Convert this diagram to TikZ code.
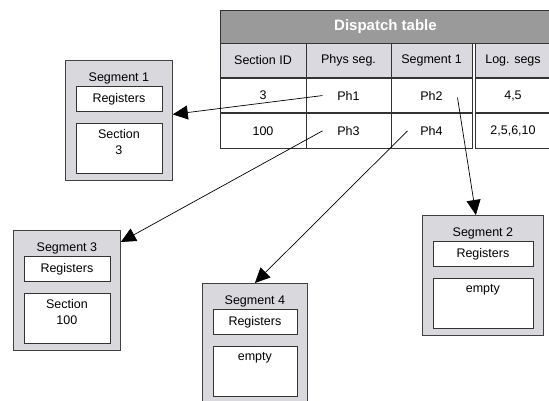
\documentclass[tikz,border=0pt]{standalone}
\usepackage{fontspec}
\setmainfont{Liberation Sans}
\usetikzlibrary{arrows.meta}

\definecolor{titlegray}{HTML}{9A9A9A}
\definecolor{headgray}{HTML}{D9D9DF}
\definecolor{seggray}{HTML}{D8D8DD}

\tikzset{
  cell/.style={draw=black!80, line width=0.8pt, minimum height=34.5, inner sep=0pt},
  segbox/.style={draw=black!75, fill=seggray, line width=0.8pt, anchor=north west, minimum height=120},
  inbox/.style={draw=black!80, fill=white, line width=0.8pt, anchor=north, inner sep=0pt},
  link/.style={-{Triangle[length=15pt,width=14pt]}, line width=0.7pt},
}

\begin{document}
\begin{tikzpicture}[x=1pt, y=-1pt, font=\fontsize{12.5}{16}\selectfont]
\useasboundingbox (0,0) rectangle (549,401);

% Dispatch table
\node[cell, fill=titlegray, minimum width=331, minimum height=33, text=white,
      font=\fontsize{15}{17}\selectfont\bfseries] (title) at (385.5,26.5) {Dispatch table};
\foreach \c/\cx/\w/\t/\a/\b in {1/263/86/Section ID/3/100, 2/348.5/85/Phys seg./Ph1/Ph3,
    3/431.5/81/Segment 1/Ph2/Ph4, 4/513/76/Log. segs/{4,5}/{2,5,6,10}} {
  \node[cell, fill=headgray, minimum width=\w] (h-\c) at (\cx,60.25) {\t};
  \node[cell, fill=white, minimum width=\w, anchor=north] (r1-\c) at (h-\c.south) {\a};
  \node[cell, fill=white, minimum width=\w, anchor=north] (r2-\c) at (r1-\c.south) {\b};
}

% Segments
\foreach \n/\x/\y/\w/\t/\c in {seg1/65/60/107/Segment 1/Section\\3, seg3/13/230/107/Segment 3/Section\\100,
    seg4/202/283/105/Segment 4/empty, seg2/422/215/121/Segment 2/empty} {
  \node[segbox, minimum width=\w] (\n) at (\x,\y) {};
  \node (\n-t) at ([yshift=-18]\n.north) {\t};
  \node[inbox, minimum width=\w-21, minimum height=25] (\n-r) at ([yshift=-26]\n.north) {Registers};
  \node[inbox, minimum width=\w-21, minimum height=50] (\n-c) at ([yshift=-63]\n.north) {};
  \node[anchor=north, align=center] (\n-x) at ([yshift=-3]\n-c.north) {\c};
}

% Links
\draw[link] ([xshift=-26]r1-2.center) -- ([yshift=6]seg1.east);
\draw[link] ([xshift=26,yshift=-2]r1-3.center) -- ([xshift=-7]seg2.north);
\draw[link] ([xshift=-26]r2-2.center) -- ([yshift=-12]seg3.north east);
\draw[link] ([xshift=-24]r2-3.center) -- (seg4.north);

\end{tikzpicture}
\end{document}
